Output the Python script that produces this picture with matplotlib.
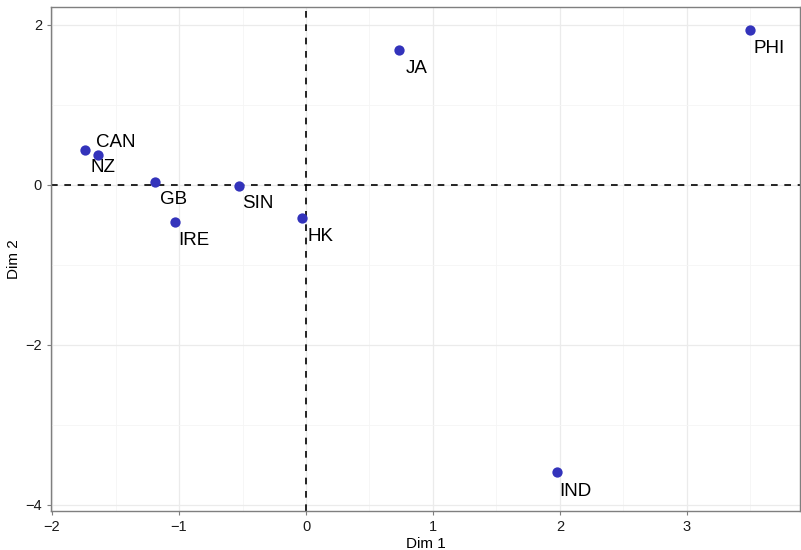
import matplotlib
matplotlib.use("Agg")
import matplotlib.pyplot as plt
from matplotlib.ticker import MultipleLocator

countries = ["CAN", "NZ", "GB", "SIN", "HK", "IRE", "JA", "PHI", "IND"]
dim1 = [-1.74, -1.64, -1.19, -0.53, -0.03, -1.03, 0.73, 3.50, 1.98]
dim2 = [0.44, 0.37, 0.04, -0.01, -0.41, -0.46, 1.69, 1.94, -3.59]

# label offsets in pixels (dx, dy) relative to point
label_offsets = {
    "CAN": (11, 7), "NZ": (-7, -12), "GB": (5, -18), "SIN": (3, -18),
    "HK": (5, -19), "IRE": (3, -19), "JA": (7, -19), "PHI": (3, -19),
    "IND": (2, -19),
}

plt.rcParams["font.family"] = ["Liberation Sans", "DejaVu Sans"]

fig = plt.figure(figsize=(8.01, 5.5), dpi=100)
ax = fig.add_axes([51 / 801, 1 - 511 / 550, 749 / 801, 504 / 550])

ax.set_xlim(-2.008, 3.89)
ax.set_ylim(-4.075, 2.225)

ax.xaxis.set_major_locator(MultipleLocator(1))
ax.xaxis.set_minor_locator(MultipleLocator(0.5))
ax.yaxis.set_major_locator(MultipleLocator(2))
ax.yaxis.set_minor_locator(MultipleLocator(1))
ax.grid(which="major", color="#EBEBEB", linewidth=0.9)
ax.grid(which="minor", color="#F5F5F5", linewidth=0.6)
ax.set_axisbelow(True)

for s in ax.spines.values():
    s.set_color("#7F7F7F")
    s.set_linewidth(1.0)

ax.tick_params(which="major", length=3, color="#7F7F7F", labelsize=10.5, labelcolor="#1A1A1A")
ax.tick_params(which="minor", length=0)

ax.axhline(0, color="black", linestyle=(0, (4, 4)), linewidth=1.2, zorder=2)
ax.axvline(0, color="black", linestyle=(0, (4, 4)), linewidth=1.2, zorder=2)

ax.scatter(dim1, dim2, s=55, color="#3333BB", zorder=3, linewidths=0)

for name, x, y in zip(countries, dim1, dim2):
    dx, dy = label_offsets[name]
    ax.annotate(name, (x, y), xytext=(dx * 0.72, dy * 0.72), textcoords="offset points",
                ha="left", va="center", fontsize=13.5, color="black", zorder=4)

ax.set_xlabel("Dim 1", fontsize=11, labelpad=2)
ax.set_ylabel("Dim 2", fontsize=11, labelpad=3)

fig.savefig("out.png", dpi=100)
